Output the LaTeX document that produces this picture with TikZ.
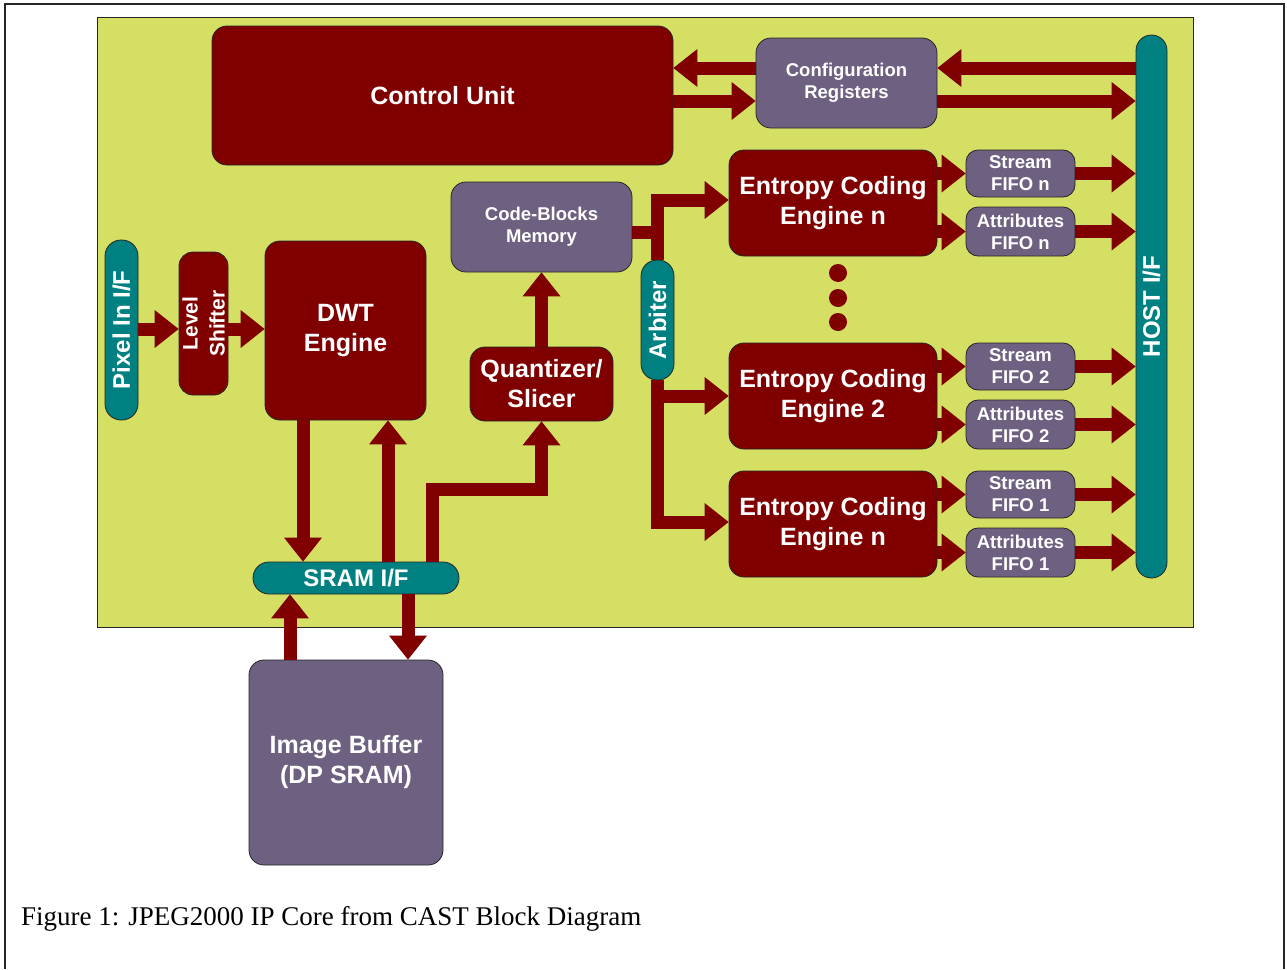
\documentclass[tikz,border=0pt]{standalone}
\usepackage{fontspec}
\setmainfont{Liberation Serif}
\newfontfamily\arialf{Liberation Sans}
\usetikzlibrary{arrows.meta}
\definecolor{dkred}{RGB}{128,0,0}
\definecolor{purp}{RGB}{110,96,128}
\definecolor{tealc}{RGB}{0,128,128}
\definecolor{panel}{RGB}{212,223,99}
\tikzset{
  blk/.style={draw=black!85, line width=0.8pt, rounded corners=15pt, text=white, align=center, inner sep=0pt},
  redbox/.style={blk, fill=dkred},
  purbox/.style={blk, fill=purp},
  pill/.style={blk, fill=tealc},
  bigf/.style={font=\arialf\bfseries\fontsize{25}{30}\selectfont},
  smallf/.style={font=\arialf\bfseries\fontsize{18.5}{22}\selectfont},
  pillf/.style={font=\arialf\bfseries\fontsize{24}{28}\selectfont},
  ptext/.style={text=white, align=center, inner sep=0pt},
  flow/.style={draw=dkred, line width=13pt, line join=miter,
    -{Triangle[width=38pt,length=24pt,line width=0pt]}},
  bus/.style={draw=dkred, line width=13pt, line join=miter},
  dotc/.style={circle, fill=dkred, minimum size=18pt, inner sep=0pt}
}
\begin{document}
\begin{tikzpicture}[x=1pt,y=-1pt]
\useasboundingbox (0,0) rectangle (1287,969);
\fill[white] (0,0) rectangle (1287,969);
% outer frame
\draw[line width=2pt, black!85] (5,969) -- (5,4) -- (1284,4) -- (1284,969);
% panel
\draw[fill=panel, draw=black!85, line width=1pt] (97,17) rectangle (1193,627);

% nodes
\node[redbox, bigf, minimum width=461pt, minimum height=139pt] (cu) at (442.5,95.5) {Control Unit};
\node[purbox, smallf, minimum width=181pt, minimum height=90pt] (cfg) at (846.5,83) {Configuration\\Registers};
\node[pill, rounded corners=15.5pt, minimum width=31pt, minimum height=543pt] (host) at (1151.5,306.5) {};
\node[ptext, pillf, rotate=90] (hostt) at (host) {HOST I/F};
\node[purbox, smallf, minimum width=181pt, minimum height=90pt] (cbm) at (541.5,227) {Code-Blocks\\Memory};
\node[pill, rounded corners=16pt, minimum width=33pt, minimum height=180pt] (pix) at (121.5,330) {};
\node[ptext, pillf, rotate=90] (pixt) at (pix) {Pixel In I/F};
\node[redbox, rounded corners=14pt, minimum width=49pt, minimum height=143pt] (lvl) at (203.5,323.5) {};
\node[ptext, font=\arialf\bfseries\fontsize{21}{27}\selectfont, rotate=90] (lvlt) at (lvl) {Level\\Shifter};
\node[redbox, bigf, minimum width=161pt, minimum height=179pt] (dwt) at (345.5,330.5) {DWT\\Engine};
\node[redbox, bigf, minimum width=143pt, minimum height=74pt] (qnt) at (541.5,384) {Quantizer/\\Slicer};
\node[pill, rounded corners=16pt, minimum width=33pt, minimum height=120pt] (arb) at (657.5,320) {};
\node[ptext, pillf, rotate=90] (arbt) at (arb) {Arbiter};

\node[redbox, bigf, minimum width=208pt, minimum height=106pt] (ecen) at (833,203) {Entropy Coding\\Engine n};
\node[purbox, smallf, rounded corners=12pt, minimum width=109pt, minimum height=47pt] (sfn) at (1020.5,173.5) {Stream\\FIFO n};
\node[purbox, smallf, rounded corners=12pt, minimum width=109pt, minimum height=49pt] (afn) at (1020.5,231.5) {Attributes\\FIFO n};

\node[dotc] (d1) at (838,273) {};
\node[dotc] (d2) at (838,298) {};
\node[dotc] (d3) at (838,322) {};

\node[redbox, bigf, minimum width=208pt, minimum height=106pt] (ece2) at (833,396) {Entropy Coding\\Engine 2};
\node[purbox, smallf, rounded corners=12pt, minimum width=109pt, minimum height=47pt] (sf2) at (1020.5,366.5) {Stream\\FIFO 2};
\node[purbox, smallf, rounded corners=12pt, minimum width=109pt, minimum height=49pt] (af2) at (1020.5,424.5) {Attributes\\FIFO 2};

\node[redbox, bigf, minimum width=208pt, minimum height=106pt] (ece1) at (833,524) {Entropy Coding\\Engine n};
\node[purbox, smallf, rounded corners=12pt, minimum width=109pt, minimum height=47pt] (sf1) at (1020.5,494.5) {Stream\\FIFO 1};
\node[purbox, smallf, rounded corners=12pt, minimum width=109pt, minimum height=49pt] (af1) at (1020.5,552.5) {Attributes\\FIFO 1};

\node[pill, pillf, rounded corners=16pt, minimum width=206pt, minimum height=32pt] (sram) at (356,578) {SRAM I/F};
\node[purbox, bigf, minimum width=194pt, minimum height=205pt] (ibuf) at (346,762.5) {Image Buffer\\(DP SRAM)};

% connectors
\draw[flow] (pix.east |- 0,329) -- (lvl.west |- 0,329);
\draw[flow] (lvl.east |- 0,329) -- (dwt.west |- 0,329);
\draw[flow] ([xshift=-42.5pt]dwt.south) -- ([xshift=-42.5pt]dwt.south |- sram.north);
\draw[flow] ([xshift=42.5pt]dwt.south |- sram.north) -- ([xshift=42.5pt]dwt.south);
\draw[flow] ([xshift=76pt]sram.north) |- ([yshift=-68pt]qnt.south) -- (qnt.south);
\draw[flow] ([xshift=-56pt]ibuf.north) -- ([xshift=-56pt]ibuf.north |- sram.south);
\draw[flow] ([xshift=62pt]ibuf.north |- sram.south) -- ([xshift=62pt]ibuf.north);
\draw[flow] (qnt.north) -- (cbm.south);

\draw[bus] ([yshift=-5pt]cbm.east) -| (arb.north);
\draw[flow] (arb.north) |- ([yshift=3pt]ecen.west);
\draw[flow] (arb.south) |- (ece2.west);
\draw[flow] (arb.south) |- ([yshift=2pt]ece1.west);

\draw[flow] ([yshift=15pt]cfg.west) -- ([yshift=15pt]cfg.west -| cu.east);
\draw[flow] ([yshift=-18pt]cfg.west -| cu.east) -- ([yshift=-18pt]cfg.west);
\draw[flow] ([yshift=15pt]cfg.east -| host.west) -- ([yshift=15pt]cfg.east);
\draw[flow] ([yshift=-18pt]cfg.east) -- ([yshift=-18pt]cfg.east -| host.west);

\foreach \e/\s/\a in {ecen/sfn/afn, ece2/sf2/af2, ece1/sf1/af1}{
  \draw[flow] (\s.west -| \e.east) -- (\s.west);
  \draw[flow] (\a.west -| \e.east) -- (\a.west);
  \draw[flow] (\s.east) -- (\s.east -| host.west);
  \draw[flow] (\a.east) -- (\a.east -| host.west);
}

% caption
\node[anchor=base west, inner sep=0pt, font=\fontsize{27}{31}\selectfont] (cap) at (21,925) {Figure 1: JPEG2000 IP Core from CAST Block Diagram};
\end{tikzpicture}
\end{document}
